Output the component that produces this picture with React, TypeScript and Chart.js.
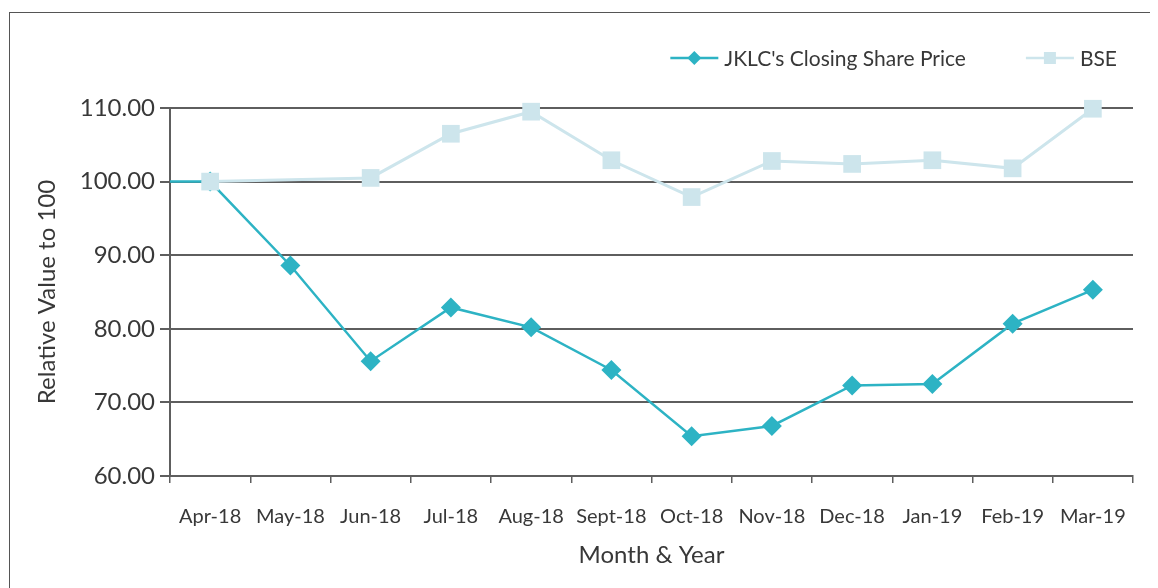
import React, { useEffect, useRef } from "react";
import { Chart, registerables } from "chart.js";

Chart.register(...registerables);

const months = ["Apr-18", "May-18", "Jun-18", "Jul-18", "Aug-18", "Sept-18", "Oct-18", "Nov-18", "Dec-18", "Jan-19", "Feb-19", "Mar-19"];
const jklcValues = [100.0, 88.6, 75.6, 82.9, 80.2, 74.4, 65.4, 66.8, 72.3, 72.5, 80.7, 85.3];
const bseValues: (number | null)[] = [100.0, null, 100.5, 106.5, 109.5, 102.9, 97.9, 102.8, 102.4, 102.9, 101.8, 109.9];
const baseValue = 100;
const yTicks = [60, 70, 80, 90, 100, 110];

const JKLC_COLOR = "#2db3c4";
const BSE_COLOR = "#cde5ec";
const FONT = "Lato, 'Open Sans', sans-serif";
const TEXT = "#383838";
const GRID = "#5e5e5e";

const legendPlugin = {
  id: "customLegend",
  afterDraw(chart: any) {
    const ctx = chart.ctx;
    const items = [
      { label: "JKLC's Closing Share Price", color: JKLC_COLOR, style: "diamond" },
      { label: "BSE", color: BSE_COLOR, style: "square" },
    ];
    ctx.save();
    ctx.font = `21px ${FONT}`;
    ctx.textBaseline = "middle";
    ctx.textAlign = "left";
    const y = 45;
    let right = 1107;
    for (let i = items.length - 1; i >= 0; i--) {
      const it = items[i];
      const w = ctx.measureText(it.label).width;
      const tx = right - w;
      const lineEnd = tx - 6;
      const lineStart = lineEnd - 48;
      ctx.fillStyle = TEXT;
      ctx.fillText(it.label, tx, y + 1);
      ctx.strokeStyle = it.color;
      ctx.lineWidth = 2.5;
      ctx.beginPath();
      ctx.moveTo(lineStart, y);
      ctx.lineTo(lineEnd, y);
      ctx.stroke();
      const cx = (lineStart + lineEnd) / 2;
      ctx.fillStyle = it.color;
      ctx.beginPath();
      if (it.style === "diamond") {
        const r = 7;
        ctx.moveTo(cx - r, y);
        ctx.lineTo(cx, y - r);
        ctx.lineTo(cx + r, y);
        ctx.lineTo(cx, y + r);
        ctx.closePath();
      } else {
        ctx.rect(cx - 6, y - 6, 12, 12);
      }
      ctx.fill();
      right = lineStart - 60;
    }
    ctx.restore();
  },
};

export default function App() {
  const ref = useRef<HTMLCanvasElement>(null);
  useEffect(() => {
    if (!ref.current) return;
    const jklcData = [{ x: -0.5, y: baseValue }, ...jklcValues.map((v, i) => ({ x: i, y: v }))];
    const bseData = bseValues.map((v, i) => ({ x: i, y: v }));
    const chart = new Chart(ref.current, {
      type: "line",
      data: {
        datasets: [
          {
            label: "JKLC's Closing Share Price",
            data: jklcData as any,
            borderColor: JKLC_COLOR,
            backgroundColor: JKLC_COLOR,
            borderWidth: 2.5,
            pointStyle: "rectRot",
            pointRadius: (c: any) => (c.dataIndex === 0 ? 0 : 10),
            pointBorderWidth: 0,
            clip: 20,
            order: 1,
          },
          {
            label: "BSE",
            data: bseData as any,
            borderColor: BSE_COLOR,
            backgroundColor: BSE_COLOR,
            borderWidth: 3,
            pointStyle: "rect",
            pointRadius: 12.5,
            pointBorderWidth: 0,
            spanGaps: true,
            clip: 20,
            order: 0,
          },
        ],
      },
      options: {
        animation: false,
        responsive: false,
        maintainAspectRatio: false,
        layout: { padding: { left: 10, top: 95, right: 25, bottom: 0 } },
        plugins: { legend: { display: false }, tooltip: { enabled: false } },
        scales: {
          x: {
            type: "linear",
            min: -0.5,
            max: 11.5,
            afterBuildTicks: (s: any) => {
              s.ticks = months.map((_, i) => ({ value: i }));
            },
            afterFit: (s: any) => {
              s.height = 112;
            },
            grid: { display: true, offset: true, drawOnChartArea: false, drawTicks: true, tickLength: 7, color: GRID, lineWidth: 1.5 },
            border: { display: true, color: GRID, width: 2 },
            ticks: {
              autoSkip: false,
              maxRotation: 0,
              padding: 22,
              color: TEXT,
              font: { family: FONT, size: 20 },
              callback: (v: any) => months[Math.round(v)] ?? "",
            },
            title: {
              display: true,
              text: "Month & Year",
              color: TEXT,
              font: { family: FONT, size: 24 },
              padding: { top: 0, bottom: 18 },
            },
          },
          y: {
            min: 60,
            max: 110,
            afterBuildTicks: (s: any) => {
              s.ticks = yTicks.map((v) => ({ value: v }));
            },
            afterFit: (s: any) => {
              s.width = 150;
            },
            grid: { color: GRID, lineWidth: 2, tickLength: 10, drawTicks: true },
            border: { display: true, color: GRID, width: 2 },
            ticks: {
              padding: 5,
              color: TEXT,
              font: { family: FONT, size: 24 },
              callback: (v: any) => Number(v).toFixed(2),
            },
            title: {
              display: true,
              text: "Relative Value to 100",
              color: TEXT,
              font: { family: FONT, size: 24 },
              padding: { top: 13, bottom: 0 },
            },
          },
        },
      },
      plugins: [legendPlugin],
    });
    return () => chart.destroy();
  }, []);

  return (
    <div style={{ position: "relative", width: 1150, height: 580, overflow: "hidden" }}>
      <div
        style={{
          position: "absolute",
          left: 1,
          top: 4,
          width: 1200,
          height: 700,
          borderTop: "1px solid #555",
          borderLeft: "1px solid #555",
          background: "#fff",
        }}
      >
        <canvas ref={ref} width={1148} height={575} style={{ display: "block" }} />
      </div>
    </div>
  );
}
